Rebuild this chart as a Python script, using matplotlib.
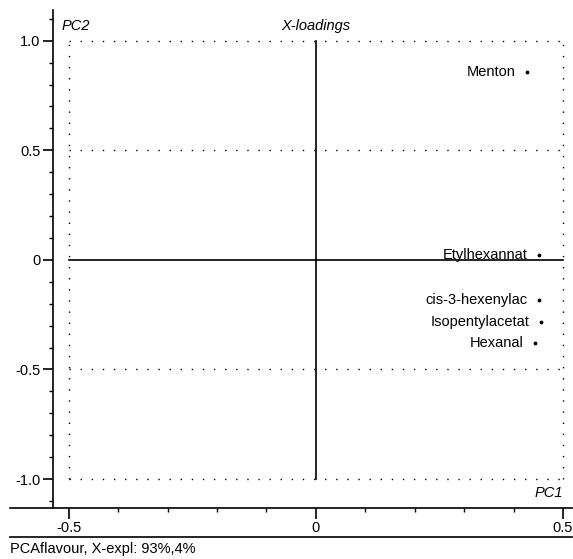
import numpy as np
import matplotlib.pyplot as plt
from matplotlib.lines import Line2D
from matplotlib.ticker import MultipleLocator

plt.rcParams['font.family'] = ['Liberation Sans Narrow', 'Liberation Sans', 'DejaVu Sans']

# PCA loadings (PC1, PC2)
names = ["Menton", "Etylhexannat", "cis-3-hexenylac", "Isopentylacetat", "Hexanal"]
pc1 = [0.427, 0.451, 0.451, 0.455, 0.443]
pc2 = [0.858, 0.023, -0.183, -0.283, -0.379]

x_ticks = [-0.5, 0, 0.5]
x_labels = ["-0.5", "0", "0.5"]
y_ticks = [1.0, 0.5, 0, -0.5, -1.0]
y_labels = ["1.0", "0.5", "0", "-0.5", "-1.0"]

W, H = 573, 559
fig = plt.figure(figsize=(W / 100, H / 100), dpi=100)
ax = fig.add_axes([53 / W, (H - 508) / H, (565 - 53) / W, (508 - 10) / H])
ax.set_xlim(-0.532, 0.504)
ax.set_ylim(-1.132, 1.14)

for s in ["top", "right", "bottom"]:
    ax.spines[s].set_visible(False)
ax.spines["left"].set_linewidth(1.2)

# dotted frame/grid
for y in [1.0, 0.5, -0.5, -1.0]:
    ax.plot([-0.5, 0.5], [y, y], color="black", lw=1.0, ls=(0, (1, 7)))
for x in [-0.5, 0.5]:
    ax.plot([x, x], [-1.0, 1.0], color="black", lw=1.0, ls=(0, (1, 7)))
# solid axes through origin
ax.plot([-0.5, 0.5], [0, 0], color="black", lw=1.2)
ax.plot([0, 0], [-1.0, 1.0], color="black", lw=1.2)

ax.scatter(pc1, pc2, s=3, color="black", zorder=3)
for n, x, y in zip(names, pc1, pc2):
    ax.annotate(n, (x, y), xytext=(-8, 0), textcoords="offset points",
                ha="right", va="center", fontsize=10.5)

ax.set_yticks(y_ticks)
ax.set_yticklabels(y_labels, fontsize=10.5)
ax.yaxis.set_minor_locator(MultipleLocator(0.1))
ax.tick_params(axis="y", which="major", length=7, width=1.2, pad=2)
ax.tick_params(axis="y", which="minor", length=3, width=1)

ax.set_xticks(x_ticks)
ax.set_xticklabels(x_labels, fontsize=10.5)
ax.xaxis.set_minor_locator(MultipleLocator(0.1))
ax.tick_params(axis="x", which="major", length=8, width=1.2, pad=1)
ax.tick_params(axis="x", which="minor", length=3, width=1)

ax.text(0, 1.068, "X-loadings", ha="center", va="center", style="italic", fontsize=10.5)
ax.text(-0.515, 1.068, "PC2", ha="left", va="center", style="italic", fontsize=10.5)
ax.text(0.5, -1.065, "PC1", ha="right", va="center", style="italic", fontsize=10.5)

# long baseline and separator line
fig.add_artist(Line2D([10 / W, 572 / W], [(H - 508) / H] * 2, color="black", lw=1.2))
fig.add_artist(Line2D([10 / W, 572 / W], [(H - 537) / H] * 2, color="black", lw=1.2))
fig.text(10 / W, (H - 549) / H, "PCAflavour, X-expl: 93%,4%", ha="left", va="center", fontsize=10.5)

fig.savefig("out.png", dpi=100)
